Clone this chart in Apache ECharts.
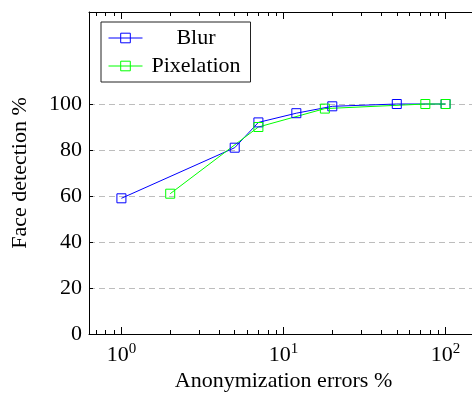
<!DOCTYPE html>
<html>
<head>
<meta charset="utf-8">
<script src="https://cdn.jsdelivr.net/npm/echarts@6/dist/echarts.min.js"></script>
<style>
html, body { margin: 0; padding: 0; background: #fff; }
#chart { width: 472px; height: 393px; }
</style>
</head>
<body>
<div id="chart"></div>
<script>
var blurX = [1, 5, 7, 12, 20, 50, 100];
var blurY = [59, 81, 92, 96, 99, 100, 100];
var pixX = [2, 7, 18, 75, 100];
var pixY = [61, 90, 98, 100, 100];

var majorX = [1, 10, 100];
var minorX = [0.7, 0.8, 0.9, 2, 3, 4, 5, 6, 7, 8, 9, 20, 30, 40, 50, 60, 70, 80, 90];
var yTicks = [0, 20, 40, 60, 80, 100];

var font = 'Liberation Serif';

function pairs(xs, ys) {
    var out = [];
    for (var i = 0; i < xs.length; i++) out.push([xs[i], ys[i]]);
    return out;
}

function xAxisDef(pos, ticks, len, line, labels) {
    return {
        type: 'log',
        logBase: 10,
        position: pos,
        min: Math.pow(10, -0.2),
        max: Math.pow(10, 2.2),
        axisLine: { show: line, lineStyle: { color: '#000', width: 1 } },
        axisTick: { inside: true, length: len, customValues: ticks, lineStyle: { color: '#000' } },
        axisLabel: labels,
        splitLine: { show: false },
        minorTick: { show: false }
    };
}

var xLabels = {
    show: true,
    customValues: majorX,
    margin: 8,
    formatter: function (v) {
        return '{b|10}{s|' + Math.round(Math.log10(v)) + '}';
    },
    rich: {
        b: { fontFamily: font, fontSize: 22, color: '#000', verticalAlign: 'bottom', lineHeight: 24 },
        s: { fontFamily: font, fontSize: 15, color: '#000', verticalAlign: 'top', lineHeight: 24, padding: [0, 0, 12, 0] }
    }
};

var mainX = xAxisDef('bottom', majorX, 7, true, xLabels);
mainX.name = 'Anonymization errors %';
mainX.nameLocation = 'middle';
mainX.nameGap = 36;
mainX.nameMoveOverlap = false;
mainX.nameTextStyle = { fontFamily: font, fontSize: 22, color: '#000', verticalAlign: 'top' };

function seriesDef(name, xs, ys, color) {
    return {
        name: name,
        type: 'line',
        xAxisIndex: 0,
        data: pairs(xs, ys),
        symbol: 'rect',
        symbolSize: 9,
        itemStyle: { color: 'rgba(255,255,255,0)', borderColor: color, borderWidth: 1 },
        lineStyle: { color: color, width: 1 }
    };
}

var myChart = echarts.init(document.getElementById('chart'));
var option = {
    animation: false,
    backgroundColor: '#fff',
    grid: { left: 89, top: 12, width: 389, height: 322, outerBoundsMode: 'none', containLabel: false },
    legend: {
        orient: 'vertical',
        left: 101,
        top: 22,
        backgroundColor: '#fff',
        borderColor: '#222',
        borderWidth: 1,
        padding: [5, 6, 5, 7],
        itemWidth: 34,
        itemHeight: 12,
        itemGap: 6,
        itemStyle: { borderWidth: 1 },
        lineStyle: { width: 1 },
        formatter: function (name) { return '{t|' + name + '}'; },
        textStyle: {
            rich: {
                t: { fontFamily: font, fontSize: 22, color: '#000', width: 97, align: 'center', lineHeight: 22 }
            }
        }
    },
    xAxis: [
        mainX,
        xAxisDef('bottom', minorX, 4, false, { show: false }),
        xAxisDef('top', majorX, 7, true, { show: false }),
        xAxisDef('top', minorX, 4, false, { show: false })
    ],
    yAxis: {
        type: 'value',
        min: 0,
        max: 140,
        interval: 20,
        name: 'Face detection %',
        nameLocation: 'middle',
        nameGap: 58,
        nameMoveOverlap: false,
        nameTextStyle: { fontFamily: font, fontSize: 22, color: '#000' },
        axisLine: { show: true, lineStyle: { color: '#000', width: 1 } },
        axisTick: { inside: true, length: 4, customValues: yTicks, lineStyle: { color: '#000' } },
        axisLabel: { customValues: yTicks, fontFamily: font, fontSize: 22, color: '#000', margin: 7 },
        splitLine: { show: true, lineStyle: { color: '#bdbdbd', type: [6, 4], width: 1 } }
    },
    series: [
        seriesDef('Blur', blurX, blurY, '#0000ff'),
        seriesDef('Pixelation', pixX, pixY, '#00ff00')
    ]
};
myChart.setOption(option);
</script>
</body>
</html>
